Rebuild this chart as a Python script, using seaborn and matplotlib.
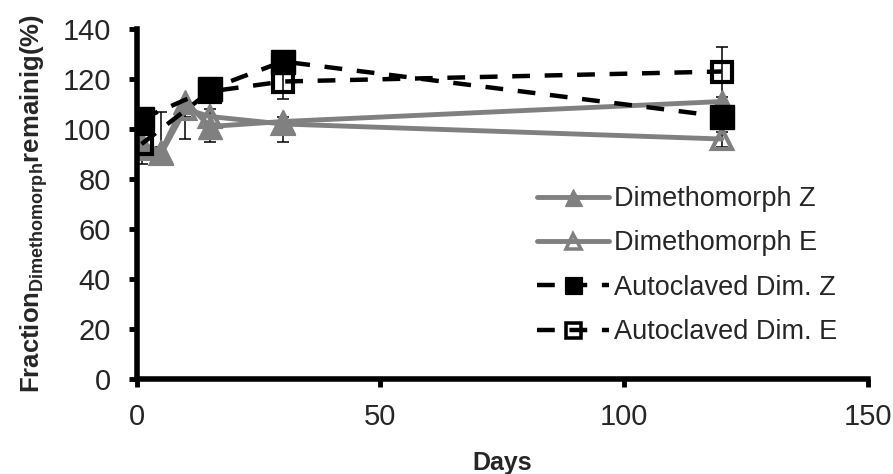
import matplotlib
matplotlib.use("Agg")
import matplotlib.pyplot as plt
from matplotlib.lines import Line2D
import seaborn as sns
import pandas as pd

# ---- data ----
days_dim = [1, 5, 10, 15, 30, 120]
dim_z = [94, 91, 111, 101, 103, 111]
dim_z_err_lo = [3, 3, 15, 6, 8, 3]
dim_z_err_hi = [0, 16, 0, 0, 0, 0]
dim_e = [92, 90, 108, 105, 102, 96]
dim_e_err = [3, 3, 3, 3, 3, 3]

days_auto = [1, 15, 30, 120]
auto_z = [104, 116, 127, 105]
auto_z_err = [3, 3, 3, 3]
auto_e = [94, 115, 119, 123]
auto_e_err = [8, 3, 7, 10]

labels = ["Dimethomorph Z", "Dimethomorph E", "Autoclaved Dim. Z", "Autoclaved Dim. E"]
x_ticks = [0, 50, 100, 150]
y_ticks = [0, 20, 40, 60, 80, 100, 120, 140]

sns.set_theme(style="white")
plt.rcParams["font.family"] = ["Liberation Sans", "DejaVu Sans"]
plt.rcParams["mathtext.fontset"] = "custom"
plt.rcParams["mathtext.bf"] = "Liberation Sans:bold"
plt.rcParams["mathtext.rm"] = "Liberation Sans"

fig = plt.figure(figsize=(8.93, 4.74), dpi=100)
ax = fig.add_axes([0.153, 0.2004, 0.819, 0.7384])

gray = "#808080"
dash = (0, (4, 3.3))
series = [
    (days_dim, dim_z, [dim_z_err_lo, dim_z_err_hi], labels[0], gray, "^", gray, "-", 3.5, 17, 1.0),
    (days_dim, dim_e, dim_e_err, labels[1], gray, "^", "none", "-", 3.5, 15, 3.0),
    (days_auto, auto_z, auto_z_err, labels[2], "black", "s", "black", dash, 3.2, 17, 1.0),
    (days_auto, auto_e, auto_e_err, labels[3], "black", "s", "none", dash, 3.2, 15, 3.0),
]

handles = []
for xs, ys, es, lab, col, mk, fc, ls, lw, ms, mew in series:
    df = pd.DataFrame({"Days": xs, "Value": ys})
    ax.errorbar(xs, ys, yerr=es, fmt="none", ecolor="black", elinewidth=1.1,
                capsize=4.5, capthick=1.1, zorder=1)
    sns.lineplot(data=df, x="Days", y="Value", ax=ax, color=col, linestyle=ls,
                 linewidth=lw, marker=mk, markersize=ms,
                 markerfacecolor=fc, markeredgecolor=col,
                 markeredgewidth=mew, errorbar=None, label=lab, legend=False)
    # legend proxy with the smaller legend marker used by the reference
    handles.append(Line2D([], [], color=col, linestyle=ls, linewidth=lw, marker=mk,
                          markersize=ms * 0.72, markerfacecolor=fc,
                          markeredgecolor=col, markeredgewidth=mew * 0.85))

ax.set_xlim(0, 150)
ax.set_ylim(0, 140)
ax.set_xticks(x_ticks)
ax.set_yticks(y_ticks)
ax.tick_params(axis="both", labelsize=21, direction="out", length=5.5, width=3.5,
               color="black", left=True, bottom=True)
ax.tick_params(axis="x", pad=11.5)
ax.tick_params(axis="y", pad=13)
for s in ["top", "right"]:
    ax.spines[s].set_visible(False)
for s in ["left", "bottom"]:
    ax.spines[s].set_linewidth(4)
    ax.spines[s].set_color("black")

ax.set_xlabel("Days", fontsize=18, fontweight="bold")
ax.xaxis.set_label_coords(0.5, -0.205)
ax.set_ylabel(r"Fraction$_{\mathbf{Dimethomorph}}$remainig(%)", fontsize=18.5,
              fontweight="bold")
ax.yaxis.set_label_coords(-0.118, 0.5)

ax.legend(handles=handles, labels=labels, loc="upper left",
          bbox_to_anchor=(537 / 893, 1 - 186 / 474), bbox_transform=fig.transFigure,
          frameon=False, fontsize=19.5, borderpad=0, borderaxespad=0,
          handlelength=2.65, handletextpad=0.2, labelspacing=0.68)

fig.savefig("out.png", dpi=100)
